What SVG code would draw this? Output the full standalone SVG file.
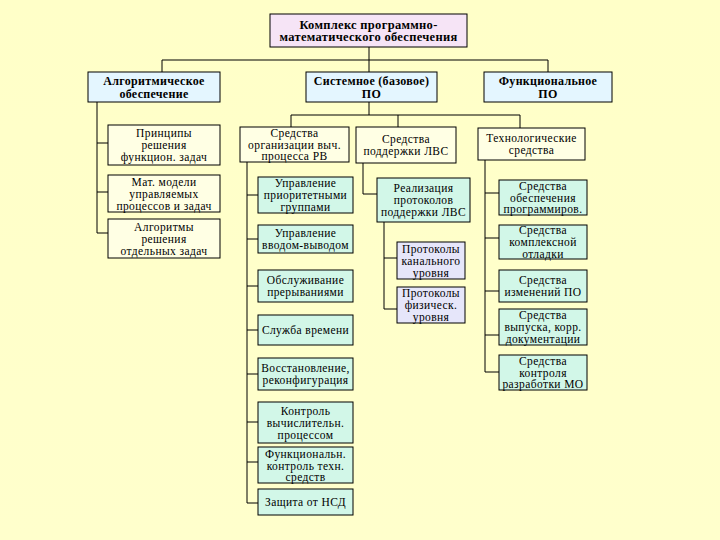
<svg xmlns="http://www.w3.org/2000/svg" width="720" height="540" viewBox="0 0 720 540">
<defs>
<linearGradient id="bg" x1="0" y1="0" x2="0" y2="1">
<stop offset="0" stop-color="#FFFFC8"/>
<stop offset="1" stop-color="#FFFFCC"/>
</linearGradient>
</defs>
<style>
rect{stroke:#000;stroke-width:1}
.top{fill:#F6E4F6}
.l2{fill:#E4F6FF}
.cr{fill:#FFFFE4}
.gr{fill:#D2F7E8}
.lv{fill:#E6E6FA}
text{font-family:"Liberation Serif","Times New Roman",serif;font-size:11.5px;letter-spacing:0.4px;text-anchor:middle;fill:#000}
.b{font-weight:bold;font-size:12.5px;letter-spacing:0.3px}
.b2{font-weight:bold;font-size:12px;letter-spacing:0.3px}
#connectors path{fill:none;stroke:#000;stroke-width:1}
</style>
<rect x="0" y="0" width="720" height="540" fill="url(#bg)" style="stroke:none"/>
<g id="connectors">
<path d="M369 47V72M162 60H548M162 60V72M548 60V72"/>
<path d="M369 102V115M291 115H520M291 115V127M398 115V127M520 115V128"/>
<path d="M97 102V233M97 143H108M97 192H108M97 233H108"/>
<path d="M247 162V503M247 195H258M247 239H258M247 286H258M247 330H258M247 374H258M247 422H258M247 462H258M247 503H258"/>
<path d="M363 163V194H377"/>
<path d="M384 222V309M384 258H397M384 309H397"/>
<path d="M485 160V372M485 193H499M485 238H499M485 291H499M485 335H499M485 372H499"/>
</g>
<g id="root"><rect class="top" x="270" y="14" width="197" height="33"/><text class="b" x="368.5" y="28.5">Комплекс программно-</text><text class="b" x="368.5" y="41">математического обеспечения</text></g>
<g id="alg"><rect class="l2" x="88" y="72" width="132" height="30"/><text class="b2" x="154" y="84.5">Алгоритмическое</text><text class="b2" x="154" y="97.5">обеспечение</text></g>
<g id="sys"><rect class="l2" x="306" y="72" width="131" height="30"/><text class="b2" x="371.5" y="84.5">Системное (базовое)</text><text class="b2" x="371.5" y="97.5">ПО</text></g>
<g id="func"><rect class="l2" x="484" y="72" width="128" height="30"/><text class="b2" x="548" y="84.5">Функциональное</text><text class="b2" x="548" y="97.5">ПО</text></g>
<g id="a1"><rect class="cr" x="108" y="125" width="112" height="40"/><text x="164" y="137">Принципы</text><text x="164" y="149">решения</text><text x="164" y="161">функцион. задач</text></g>
<g id="a2"><rect class="cr" x="108" y="175" width="112" height="37"/><text x="164" y="185.5">Мат. модели</text><text x="164" y="197.5">управляемых</text><text x="164" y="209.5">процессов и задач</text></g>
<g id="a3"><rect class="cr" x="108" y="219" width="112" height="39"/><text x="164" y="230.5">Алгоритмы</text><text x="164" y="242.5">решения</text><text x="164" y="254.5">отдельных задач</text></g>
<g id="s1"><rect class="cr" x="240" y="127" width="109" height="35"/><text x="294.5" y="136.5">Средства</text><text x="294.5" y="148.5">организации выч.</text><text x="294.5" y="160">процесса РВ</text></g>
<g id="s2"><rect class="cr" x="356" y="127" width="100" height="36"/><text x="406" y="143">Средства</text><text x="406" y="155">поддержки ЛВС</text></g>
<g id="f1"><rect class="cr" x="478" y="128" width="107" height="32"/><text x="531.5" y="142">Технологические</text><text x="531.5" y="154">средства</text></g>
<g id="g1"><rect class="gr" x="258" y="177" width="95" height="36"/><text x="305.5" y="187">Управление</text><text x="305.5" y="199">приоритетными</text><text x="305.5" y="211">группами</text></g>
<g id="g2"><rect class="gr" x="258" y="225" width="95" height="28"/><text x="305.5" y="237">Управление</text><text x="305.5" y="249">вводом-выводом</text></g>
<g id="g3"><rect class="gr" x="258" y="270" width="95" height="32"/><text x="305.5" y="284">Обслуживание</text><text x="305.5" y="296">прерываниями</text></g>
<g id="g4"><rect class="gr" x="258" y="315" width="95" height="30"/><text x="305.5" y="334">Служба времени</text></g>
<g id="g5"><rect class="gr" x="258" y="358" width="95" height="32"/><text x="305.5" y="372">Восстановление,</text><text x="305.5" y="384">реконфигурация</text></g>
<g id="g6"><rect class="gr" x="258" y="402" width="95" height="41"/><text x="305.5" y="414.5">Контроль</text><text x="305.5" y="426.5">вычислительн.</text><text x="305.5" y="438.5">процессом</text></g>
<g id="g7"><rect class="gr" x="258" y="447" width="95" height="36"/><text x="305.5" y="457.5">Функциональн.</text><text x="305.5" y="469.5">контроль техн.</text><text x="305.5" y="481">средств</text></g>
<g id="g8"><rect class="gr" x="258" y="489" width="95" height="26"/><text x="305.5" y="506">Защита от НСД</text></g>
<g id="r1"><rect class="gr" x="377" y="178" width="93" height="44"/><text x="423.5" y="192">Реализация</text><text x="423.5" y="204">протоколов</text><text x="423.5" y="216">поддержки ЛВС</text></g>
<g id="p1"><rect class="lv" x="397" y="242" width="68" height="37"/><text x="431" y="252.5">Протоколы</text><text x="431" y="264.5">канального</text><text x="431" y="276.5">уровня</text></g>
<g id="p2"><rect class="lv" x="397" y="287" width="68" height="36"/><text x="431" y="297">Протоколы</text><text x="431" y="309">физическ.</text><text x="431" y="321">уровня</text></g>
<g id="t1"><rect class="gr" x="499" y="180" width="88" height="35"/><text x="543" y="189.5">Средства</text><text x="543" y="201.5">обеспечения</text><text x="543" y="213">программиров.</text></g>
<g id="t2"><rect class="gr" x="499" y="225" width="88" height="34"/><text x="543" y="234">Средства</text><text x="543" y="246">комплексной</text><text x="543" y="257.5">отладки</text></g>
<g id="t3"><rect class="gr" x="499" y="270" width="88" height="32"/><text x="543" y="284">Средства</text><text x="543" y="296">изменений ПО</text></g>
<g id="t4"><rect class="gr" x="499" y="309" width="88" height="36"/><text x="543" y="319">Средства</text><text x="543" y="331">выпуска, корр.</text><text x="543" y="343">документации</text></g>
<g id="t5"><rect class="gr" x="499" y="355" width="88" height="35"/><text x="543" y="364.5">Средства</text><text x="543" y="376.5">контроля</text><text x="543" y="388">разработки МО</text></g>
</svg>
